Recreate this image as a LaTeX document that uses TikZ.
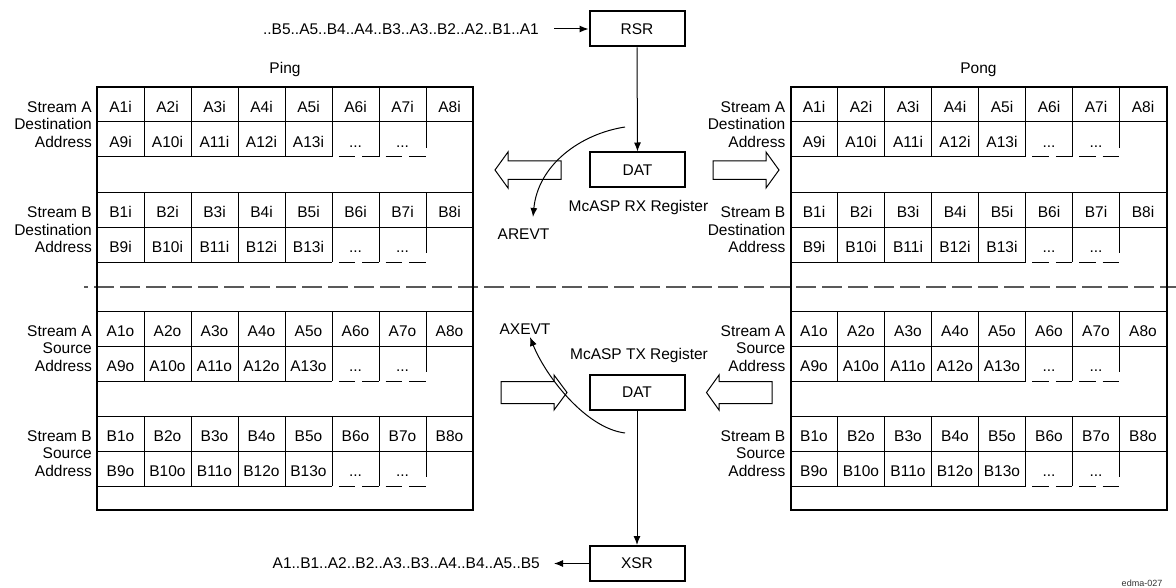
\documentclass[tikz,border=0pt]{standalone}
\usepackage{fontspec}
\setmainfont{Liberation Sans}
\usetikzlibrary{arrows.meta}
\newcommand\grpdraw[6]{% #1 x0, #2 g, #3 letter, #4 suffix, #5 word, #6 prefix
  \draw[cell] (#1,#2) -- ++(376,0);
  \draw[cell] (#1,#2+35) -- ++(376,0);
  \draw[cell] (#1,#2+70) -- ++(235,0);
  \draw[dsh] (#1+235,#2+70) -- ++(94,0);
  \foreach \k in {1,...,7} \draw[cell] (#1+\k*47,#2) -- ++(0,35);
  \foreach \k in {1,...,6} \draw[cell] (#1+\k*47,#2+35) -- ++(0,35);
  \draw[cell] (#1+329,#2+35) -- ++(0,26);
  \foreach \k in {1,...,8} \node[celltxt] (#6#3#4\k) at (#1+\k*47-23.5,#2+25.3) {#3\k#4};
  \foreach \k in {9,...,13} \node[celltxt] (#6#3#4\k) at (#1+\k*47-376-23.5,#2+60.3) {#3\k#4};
  \node[celltxt] (#6#3#4da) at (#1+5*47+23.5,#2+60.3) {...};
  \node[celltxt] (#6#3#4db) at (#1+6*47+23.5,#2+60.3) {...};
  \node[align=right, anchor=east] (#6#3#4lab) at (#1-5,#2+37.5) {Stream #3\\#5\\Address};
}
\newcommand\blkdraw[3]{% #1 x0, #2 prefix, #3 title
  \grpdraw{#1}{87}{A}{i}{Destination}{#2}
  \grpdraw{#1}{192.5}{B}{i}{Destination}{#2}
  \grpdraw{#1}{311}{A}{o}{Source}{#2}
  \grpdraw{#1}{416}{B}{o}{Source}{#2}
  \draw[blk] (#1,87) rectangle (#1+376,510);
  \node[anchor=base] (#2title) at (#1+188,74) {#3};
}
\begin{document}
\begin{tikzpicture}[x=1pt,y=-1pt,
  every node/.style={font=\fontsize{15.5}{17.5}\selectfont, inner sep=0pt},
  cell/.style={line width=1pt},
  celltxt/.style={anchor=base},
  blk/.style={line width=2pt},
  reg/.style={draw, line width=2pt, minimum width=95pt, minimum height=35pt},
  arr/.style={line width=1pt, -{Latex[length=9pt,width=7pt]}},
  hollow/.style={draw, line width=1pt, fill=white, line join=miter},
  dsh/.style={line width=1pt, dash pattern=on 16.5pt off 6.9pt, dash phase=16.5pt},
  sep/.style={line width=1.3pt, draw=black!65, dash pattern=on 20pt off 6pt, dash phase=15.7pt}
]
\useasboundingbox (0,0) rectangle (1176,588);

% separator
\coordinate (sepL) at (84,287);
\coordinate (sepR) at (1176,287);
\draw[sep] (sepL) -- (sepR);

% blocks
\blkdraw{97}{P}{Ping}
\blkdraw{790.5}{Q}{Pong}

% registers
\node[reg] (RSR) at (637,29) {RSR};
\node[reg] (DATr) at (637.5,170) {DAT};
\node[reg] (DATt) at (637,392.5) {DAT};
\node[reg] (XSR) at (637,563.5) {XSR};

\node[anchor=east] (inseq) at (539,29) {..B5..A5..B4..A4..B3..A3..B2..A2..B1..A1};
\node[anchor=east] (outseq) at (540,563.5) {A1..B1..A2..B2..A3..B3..A4..B4..A5..B5};

\node[anchor=base] (rxlab) at (638.5,211.5) {McASP RX Register};
\node[anchor=base] (txlab) at (639,359) {McASP TX Register};
\node[anchor=base] (arevt) at (523.5,240) {AREVT};
\node[anchor=base] (axevt) at (525,334.3) {AXEVT};

\node[anchor=south, font=\fontsize{9}{10}\selectfont, text=black!80] (fig) at (1142,587) {edma-027};

% connectors
\draw[arr] ([xshift=15pt]inseq.east) -- (RSR.west);
\draw[arr] (RSR.south) -- (DATr.north);
\draw[arr] (DATt.south) -- (XSR.north);
\draw[arr] (XSR.west) -- ([xshift=14pt]outseq.east);

% hollow arrows
\draw[hollow] (561,161) -- (508,161) -- (508,152) -- (495,170) -- (508,188) -- (508,179.5) -- (561,179.5) -- cycle;
\draw[hollow] (713,161) -- (766,161) -- (766,152) -- (779,170) -- (766,188) -- (766,179.5) -- (713,179.5) -- cycle;
\draw[hollow] (501,381.5) -- (554,381.5) -- (554,375) -- (567,392.5) -- (554,410) -- (554,403.5) -- (501,403.5) -- cycle;
\draw[hollow] (772,381.5) -- (719,381.5) -- (719,375) -- (706.5,392.5) -- (719,410) -- (719,403.5) -- (772,403.5) -- cycle;

% event curves
\coordinate (rxs) at (625,127);
\coordinate (rxe) at (533,217);
\coordinate (txs) at (625,433);
\coordinate (txe) at (530,337);
\draw[arr] (rxs) .. controls (580,134) and (538,165) .. (rxe);
\draw[arr] (txs) .. controls (585,428) and (545,375) .. (txe);
\end{tikzpicture}
\end{document}
